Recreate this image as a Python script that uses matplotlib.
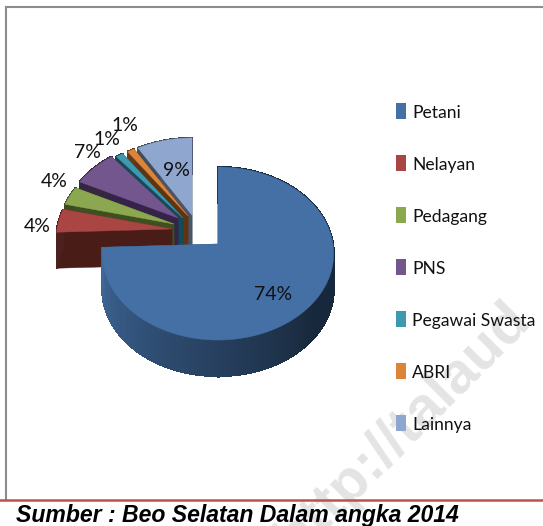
import numpy as np
import matplotlib
matplotlib.use('Agg')
import matplotlib.pyplot as plt
from matplotlib.patches import Polygon, Rectangle

# Data
categories = ['Petani', 'Nelayan', 'Pedagang', 'PNS', 'Pegawai Swasta', 'ABRI', 'Lainnya']
shares = [74.4, 4.4, 3.5, 6.9, 1.1, 1.1, 8.6]

top_colors = ['#4470A6', '#A94644', '#8BA74F', '#74568F', '#3F98AE', '#DC8439', '#8FA6CE']
wall_colors = ['#2B4A70', '#4A1C18', '#3F5020', '#35234A', '#174A58', '#5E3510', '#4A5568']

# slice shift in pixels (pulled-out slices), not data
shift_x = [0, -46, -44, -40, -35, -30, -26]
shift_y = [0, -15, -20, -26, -26, -28, -29]

CX, CY = 218, 244
RX, RY, PERSP = 115, 85.5, 0.11
DEPTH = 36
NARROW = ['Lato', 'Open Sans']


def project(theta, r=1.0, dx=0, dy=0):
    # clockwise from 12 o'clock, tilted disc with a little perspective
    u = r * np.sin(theta)
    v = r * np.cos(theta)
    w = 1 + PERSP * v
    return CX + dx + RX * u / w, CY + dy - RY * v / w


fig = plt.figure(figsize=(5.43, 5.26), dpi=100)
ax = fig.add_axes([0, 0, 1, 1])
ax.set_xlim(0, 543)
ax.set_ylim(526, 0)
ax.axis('off')

# watermark
ax.text(295, 558, 'http://talaud', rotation=45, rotation_mode='anchor',
        fontsize=42, fontweight='bold', family='Liberation Sans', color='#E4E4E4',
        ha='left', va='baseline', zorder=0, clip_on=True)

# frame
ax.plot([6, 6], [7, 500], color='#8C8C8C', lw=1.5, zorder=1)
ax.plot([6, 543], [7, 7], color='#8C8C8C', lw=1.5, zorder=1)
ax.plot([0, 543], [500, 500], color='#C0504D', lw=1.8, zorder=6)

edges = np.cumsum([0] + shares) / 100 * 2 * np.pi
order = [6, 5, 4, 3, 2, 1, 0]
z = 2
for i in order:
    a0, a1 = edges[i], edges[i + 1]
    dx, dy = shift_x[i], shift_y[i]
    th = np.linspace(a0, a1, max(6, int((a1 - a0) * 60)))
    xs, ys = project(th, 1.0, dx, dy)
    ax_x, ax_y = CX + dx, CY + dy

    # cut faces
    for t in (a1, a0):
        ex, ey = project(t, 1.0, dx, dy)
        ax.add_patch(Polygon([(ax_x, ax_y), (ex, ey), (ex, ey + DEPTH), (ax_x, ax_y + DEPTH)],
                             closed=True, fc=wall_colors[i], ec=wall_colors[i], lw=0.3, zorder=z))
    # outer wall, shaded along the arc
    base = np.array(matplotlib.colors.to_rgb(top_colors[i]))
    for k in range(len(th) - 1):
        if i == 0:
            # dark on the right, lighter towards the left end
            f = 0.36 + 0.56 * np.clip((th[k] - np.radians(130)) / np.radians(135), 0, 1)
        else:
            f = 0.45
        c = base * f
        ax.add_patch(Polygon([(xs[k], ys[k]), (xs[k + 1], ys[k + 1]),
                              (xs[k + 1], ys[k + 1] + DEPTH), (xs[k], ys[k] + DEPTH)],
                             closed=True, fc=c, ec=c, lw=0.8, antialiased=False, zorder=z))
    # top surface
    ax.add_patch(Polygon(np.vstack([[ax_x, ax_y], np.column_stack([xs, ys])]),
                         closed=True, fc=top_colors[i], ec=top_colors[i], lw=0.3, zorder=z + 0.5))
    z += 1

# percent labels, placed from each slice's mid angle
label_r = [0.66, 1.22, 1.30, 1.20, 1.30, 1.48, 0.62]
label_off_x = [-3, 3, 14, 9, 4, 18, 2]
label_off_y = [9, 8, -6, -6, 1, 3, 3]
for i, val in enumerate(shares):
    mid = (edges[i] + edges[i + 1]) / 2
    lx, ly = project(mid, label_r[i], shift_x[i], shift_y[i])
    ax.text(lx + label_off_x[i], ly + label_off_y[i], f'{val:.0f}%', ha='center', va='center',
            fontsize=14, family=NARROW, color='#111111', zorder=20)

# legend
for i, name in enumerate(categories):
    ly = 111 + i * 52
    ax.add_patch(Rectangle((396, ly - 8), 10, 16, fc=top_colors[i], ec='none', zorder=5))
    ax.text(412, ly + 2, name, ha='left', va='center', fontsize=12.6,
            family=NARROW, color='#111111', zorder=5)

# source line
ax.text(16, 522, 'Sumber : Beo Selatan Dalam angka 2014', ha='left', va='baseline',
        fontsize=16.6, fontweight='bold', style='italic', family='Liberation Sans', color='black', zorder=7)

plt.savefig('out.png', dpi=100)
